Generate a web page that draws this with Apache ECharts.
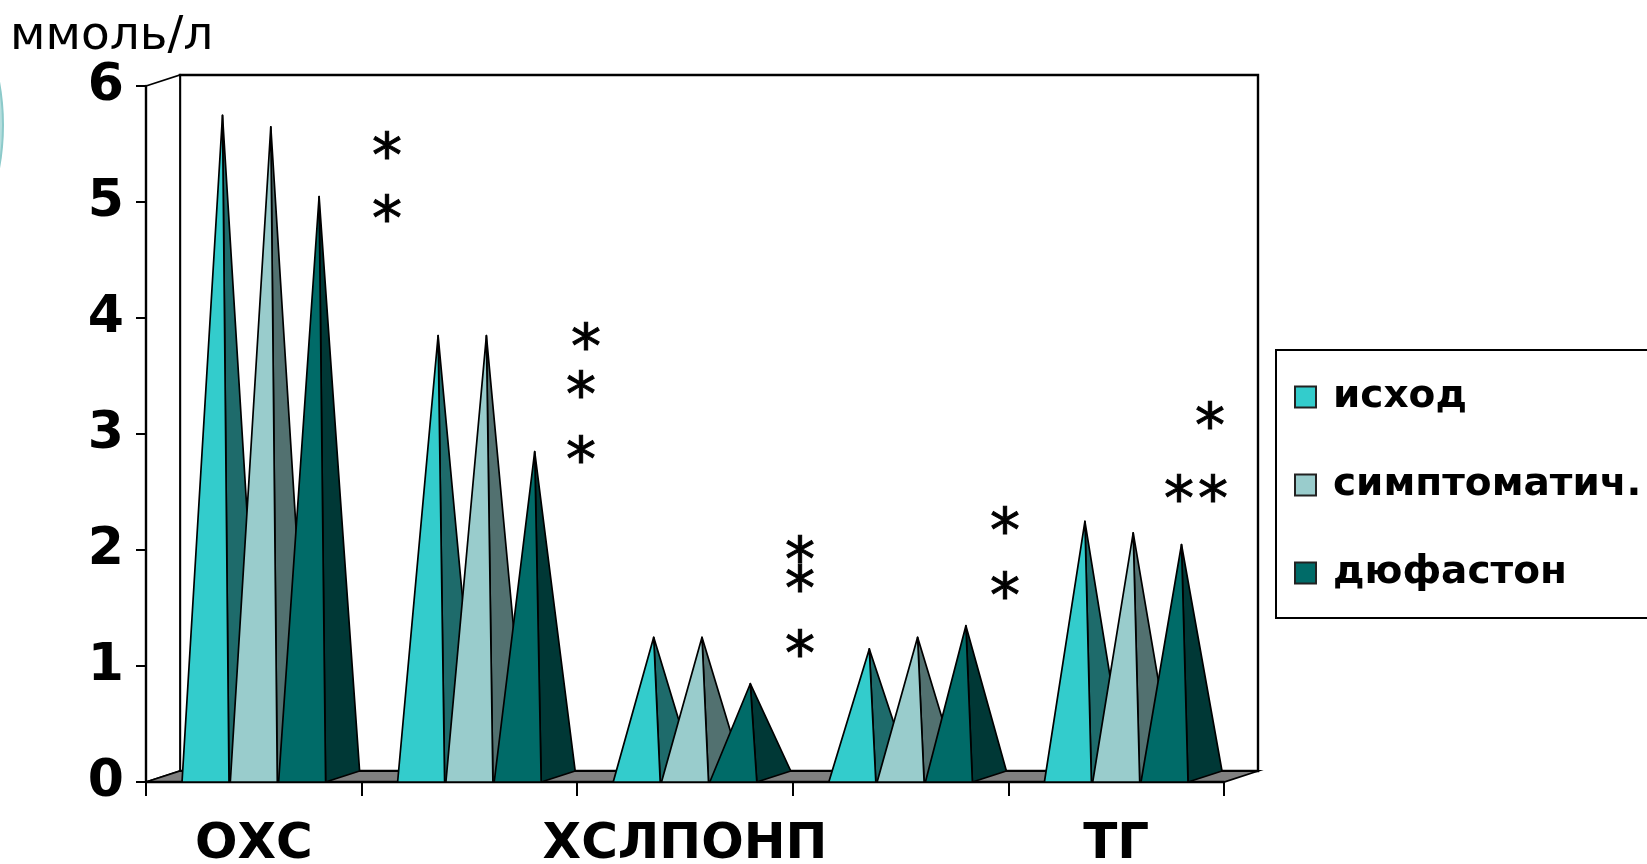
<!DOCTYPE html>
<html>
<head>
<meta charset="utf-8">
<title>Липидный профиль</title>
<script src="https://cdn.jsdelivr.net/npm/echarts@6/dist/echarts.min.js"></script>
<style>
  html, body { margin: 0; padding: 0; background: #ffffff; }
  #chart { width: 1647px; height: 864px; }
</style>
</head>
<body>
<div id="chart"></div>
<script>
// Lipid indices (mmol/l) for the three groups
const categories = ['ОХС', 'ХСЛПНП', 'ХСЛПОНП', 'ХСЛПВП', 'ТГ'];
const seriesNames = ['исход', 'симптоматич.', 'дюфастон'];
const ishod = [5.7, 3.8, 1.2, 1.1, 2.2];
const symptomatic = [5.6, 3.8, 1.2, 1.2, 2.1];
const duphaston = [5.0, 2.8, 0.8, 1.3, 2.0];
const yTicks = [0, 1, 2, 3, 4, 5, 6];
const unitLabel = 'ммоль/л';

const FONT = '"DejaVu Sans", Verdana, sans-serif';
// pseudo-3D depth of the floor / back wall, in pixels
const DEPTH_X = 34;
const DEPTH_Y = -11;

const frontColors = ['#33CCCC', '#99CCCC', '#006B68'];
const sideColors = ['#1E6B6B', '#527170', '#003836'];

const chart = echarts.init(document.getElementById('chart'), null, { renderer: 'canvas' });

function pyramidRenderer(k) {
  return function (params, api) {
    const idx = api.value(0);
    const v = api.value(1);
    const base = api.coord([idx, 0]);
    const top = api.coord([idx, v]);
    const band = api.size([1, 0])[0];
    const w = band * 0.218;
    const step = band * 0.224;
    const span = 2 * step + w;
    const xL = base[0] - span / 2 + k * step;
    const xR = xL + w;
    const y0 = base[1];
    const apex = [(xL + xR) / 2 + DEPTH_X / 2, top[1] + DEPTH_Y / 2];
    const edge = { stroke: '#000', lineWidth: 1.7, lineJoin: 'round' };
    return {
      type: 'group',
      children: [
        {
          type: 'polygon',
          shape: { points: [[xR, y0], [xR + DEPTH_X, y0 + DEPTH_Y], apex] },
          style: Object.assign({ fill: sideColors[k] }, edge)
        },
        {
          type: 'polygon',
          shape: { points: [[xL, y0], [xR, y0], apex] },
          style: Object.assign({ fill: frontColors[k] }, edge)
        }
      ]
    };
  };
}

function frameRenderer(params) {
  const cs = params.coordSys;
  const x0 = cs.x, x1 = cs.x + cs.width;
  const yT = cs.y, yB = cs.y + cs.height;
  const dx = DEPTH_X, dy = DEPTH_Y;
  return {
    type: 'group',
    children: [
      {
        type: 'polygon',
        shape: { points: [[x0 + dx, yT + dy], [x1 + dx, yT + dy], [x1 + dx, yB + dy], [x0 + dx, yB + dy]] },
        style: { fill: '#ffffff', stroke: '#000', lineWidth: 2.4 }
      },
      {
        type: 'polygon',
        shape: { points: [[x0, yT], [x0 + dx, yT + dy], [x0 + dx, yB + dy], [x0, yB]] },
        style: { fill: '#ffffff', stroke: '#000', lineWidth: 1.8 }
      },
      {
        type: 'polygon',
        shape: { points: [[x0, yB], [x1, yB], [x1 + dx, yB + dy], [x0 + dx, yB + dy]] },
        style: { fill: '#808080', stroke: '#000', lineWidth: 1.8 }
      }
    ]
  };
}

const seriesData = [ishod, symptomatic, duphaston];

const series = [
  {
    name: 'frame',
    type: 'custom',
    coordinateSystem: 'cartesian2d',
    silent: true,
    z: -1,
    renderItem: frameRenderer,
    data: [[0, 0]]
  }
].concat(seriesData.map(function (vals, k) {
  return {
    name: seriesNames[k],
    type: 'custom',
    coordinateSystem: 'cartesian2d',
    z: 2 + k,
    itemStyle: { color: frontColors[k] },
    renderItem: pyramidRenderer(k),
    encode: { x: 0, y: 1 },
    data: vals.map(function (v, i) { return [i, v]; })
  };
}));

// significance marks
function star(x, y) {
  return {
    type: 'text',
    x: x, y: y,
    style: {
      text: '*', font: '60px ' + FONT, fill: '#000',
      stroke: '#000', lineWidth: 1,
      textAlign: 'center', textVerticalAlign: 'middle'
    }
  };
}

const option = {
  backgroundColor: '#ffffff',
  animation: false,
  grid: {
    left: 146, right: 423, top: 86, bottom: 82,
    show: false, containLabel: false, outerBoundsMode: 'none'
  },
  xAxis: {
    type: 'category',
    data: categories,
    boundaryGap: true,
    axisLine: { show: true, lineStyle: { color: '#000', width: 2.4 } },
    axisTick: { show: true, interval: 0, length: 14, lineStyle: { color: '#000', width: 2 } },
    axisLabel: {
      interval: 1,
      margin: 38,
      color: '#000',
      fontFamily: FONT,
      fontWeight: 'bold',
      fontSize: 50
    },
    splitLine: { show: false }
  },
  yAxis: {
    type: 'value',
    min: yTicks[0],
    max: yTicks[yTicks.length - 1],
    interval: 1,
    axisLine: { show: true, lineStyle: { color: '#000', width: 2.4 } },
    axisTick: { show: true, length: 10, lineStyle: { color: '#000', width: 2 } },
    axisLabel: {
      margin: 22,
      color: '#000',
      fontFamily: FONT,
      fontWeight: 'bold',
      fontSize: 52,
      formatter: function (v) { return yTicks.indexOf(v) >= 0 ? String(v) : ''; }
    },
    splitLine: { show: false }
  },
  legend: {
    data: seriesNames.map(function (n, k) {
      return { name: n, itemStyle: { color: frontColors[k], borderColor: '#222', borderWidth: 2 } };
    }),
    orient: 'vertical',
    left: 1276,
    top: 350,
    padding: [25, 50, 23, 18],
    itemWidth: 21,
    itemHeight: 21,
    itemGap: 44,
    icon: 'rect',
    borderColor: '#000',
    borderWidth: 2,
    selectedMode: false,
    textStyle: {
      color: '#000',
      fontFamily: FONT,
      fontWeight: 'bold',
      fontSize: 39,
      lineHeight: 44,
      padding: [0, 0, 0, 12]
    }
  },
  graphic: [
    {
      type: 'circle',
      shape: { cx: -233, cy: 125, r: 236 },
      style: { fill: '#B5DEDE', stroke: '#8CCACA', lineWidth: 2 },
      silent: true
    },
    {
      type: 'text',
      x: 10, y: 37,
      style: {
        text: unitLabel, font: '47px ' + FONT, fill: '#000',
        textAlign: 'left', textVerticalAlign: 'middle'
      }
    },
    star(387, 160), star(387, 223),
    star(586, 351), star(581, 399), star(581, 464),
    star(800, 564), star(800, 593), star(800, 658),
    star(1005, 535), star(1005, 600),
    star(1210, 430), star(1179, 503), star(1213, 503)
  ],
  series: series
};

chart.setOption(option);
</script>
</body>
</html>
